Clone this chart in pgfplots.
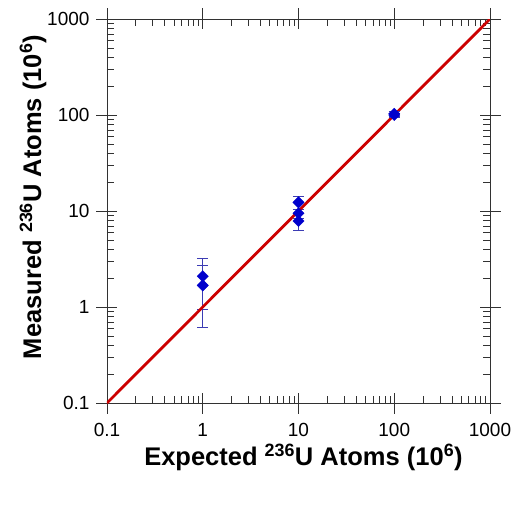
\documentclass[border=0pt]{standalone}
\usepackage{fontspec}
\setmainfont{Liberation Sans}
\usepackage{pgfplots}
\pgfplotsset{compat=1.18}
\definecolor{lred}{RGB}{204,0,0}
\definecolor{mblue}{RGB}{0,0,204}
\definecolor{ebar}{RGB}{60,60,180}
\definecolor{axgray}{RGB}{50,50,50}
\begin{document}
\begin{tikzpicture}
\useasboundingbox (0,0) rectangle (519pt,504pt);
\begin{axis}[
  at={(107pt,101pt)}, anchor=south west,
  scale only axis, width=383pt, height=384pt,
  xmode=log, ymode=log,
  xmin=0.1, xmax=1000, ymin=0.1, ymax=1000,
  xtick={0.1,1,10,100,1000}, ytick={0.1,1,10,100,1000},
  xticklabels={0.1,1,10,100,1000}, yticklabels={0.1,1,10,100,1000},
  log ticks with fixed point,
  /pgf/number format/assume math mode=true,
  ticklabel style={font=\fontsize{19}{22}\selectfont, text=black},
  xticklabel shift=17pt, yticklabel shift=14pt,
  tick align=inside,
  major tick length=10pt, minor tick length=7pt,
  every tick/.style={axgray, line width=0.8pt},
  minor tick style={axgray, line width=0.7pt},
  axis line style={axgray, line width=0.9pt},
  extra x ticks={0.1,1,10,100,1000}, extra y ticks={0.1,1,10,100,1000},
  extra x tick labels={}, extra y tick labels={},
  extra tick style={tick align=outside, major tick length=11pt, minor tick length=0pt, grid=none},
  xlabel={Expected \textsuperscript{236}U Atoms (10\textsuperscript{6})},
  ylabel={Measured \textsuperscript{236}U Atoms (10\textsuperscript{6})},
  label style={font=\fontsize{25.5}{30}\selectfont\bfseries},
  xlabel style={at={(axis description cs:0.513,-0.163)}, anchor=base},
  ylabel style={at={(axis description cs:-0.172,0.5365)}, anchor=base, rotate=0},
]
\addplot[only marks, mark=square*, mark size=4pt, mark options={rotate=45, fill=mblue, draw=mblue},
  error bars/.cd, y dir=both, y explicit,
  error bar style={ebar, line width=0.8pt},
  error mark options={rotate=90, mark size=5.5pt, ebar, line width=0.8pt}]
  coordinates {
  (1,2.09) +- (0,1.15)
  (1,1.68) +- (0,1.06)
  (10,12.3) +- (0,1.9)
  (10,9.47) +- (0,1.0)
  (10,7.87) +- (0,1.6)
  };
\addplot[lred, line width=2.8pt] coordinates {(0.1,0.1) (1000,1000)};
\addplot[only marks, mark=square*, mark size=4pt, mark options={rotate=45, fill=mblue, draw=mblue},
  error bars/.cd, y dir=both, y explicit,
  error bar style={ebar, line width=0.8pt},
  error mark options={rotate=90, mark size=5.5pt, ebar, line width=0.8pt}]
  coordinates {
  (100,103) +- (0,6)
  (100,100) +- (0,5)
  };
\end{axis}
\end{tikzpicture}
\end{document}
